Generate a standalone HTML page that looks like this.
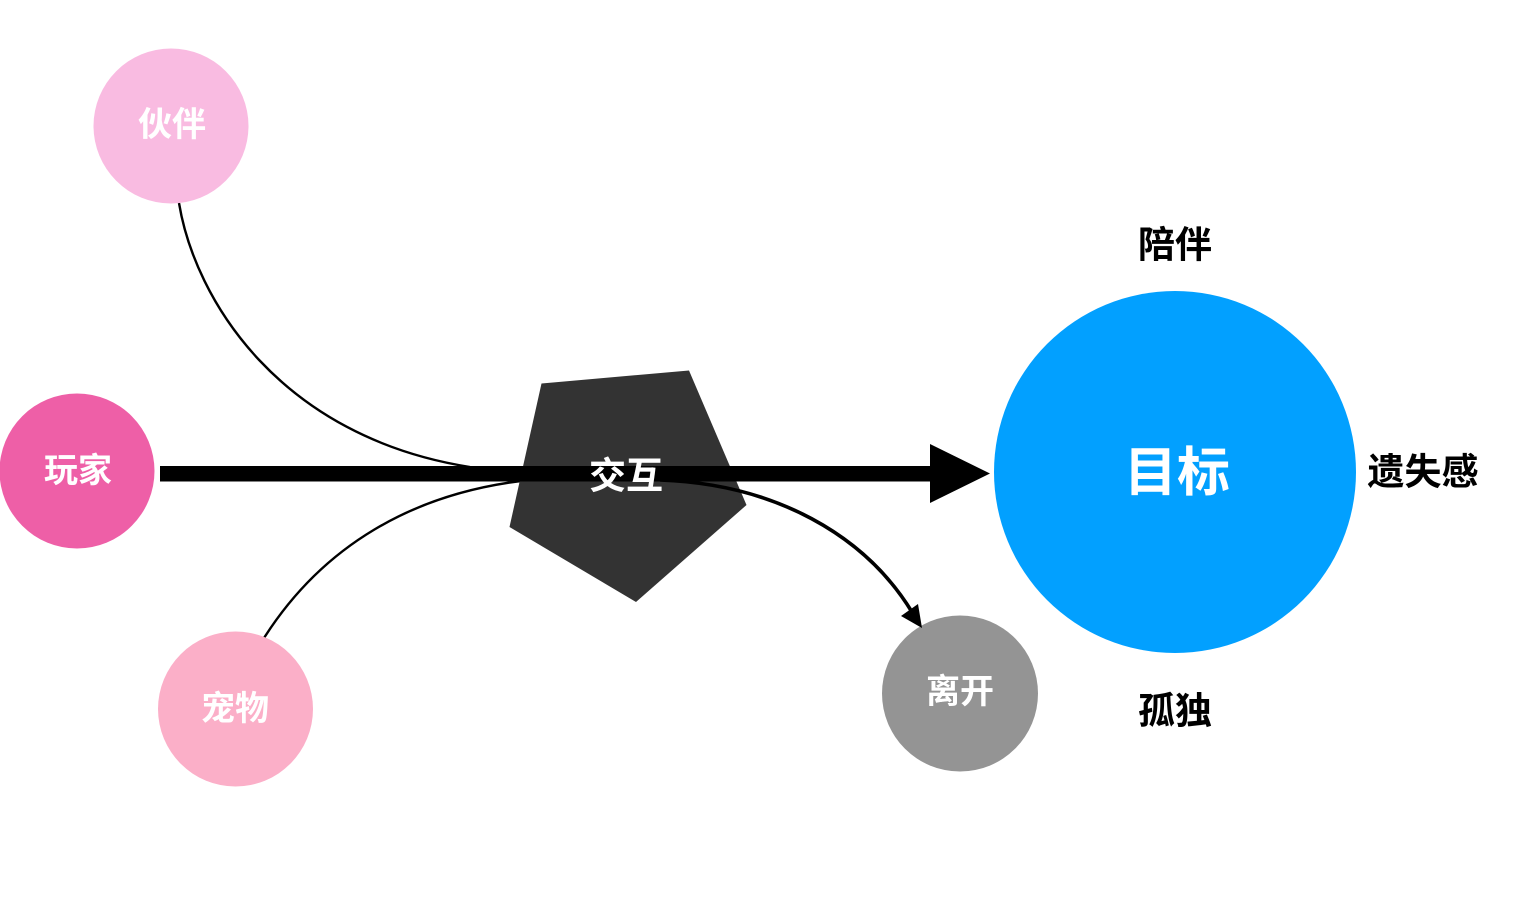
<!DOCTYPE html>
<html>
<head>
<meta charset="utf-8">
<style>
  html, body { margin: 0; padding: 0; background: #ffffff; }
  body { width: 1528px; height: 918px; overflow: hidden; }
  svg { display: block; }
  text { font-family: "Liberation Sans", "Noto Sans CJK SC", sans-serif; font-weight: bold; }
</style>
</head>
<body>
<svg width="1528" height="918" viewBox="0 0 1528 918" xmlns="http://www.w3.org/2000/svg">
  <rect width="1528" height="918" fill="#ffffff"/>

  <!-- thin curves -->
  <path d="M179,203 C195,300 280,437 470,467" fill="none" stroke="#000" stroke-width="2.4"/>
  <path d="M264,638 C320,550 410,490 540,479" fill="none" stroke="#000" stroke-width="2.4"/>

  <!-- pentagon -->
  <polygon points="541.5,383.5 689,370.5 746.5,505 636,602 509.5,527" fill="#333333"/>

  <!-- circles -->
  <circle cx="171" cy="126" r="77.5" fill="#f9bbe1"/>
  <circle cx="77" cy="471" r="77.5" fill="#ee5fa7"/>
  <circle cx="235.5" cy="709" r="77.5" fill="#fbafc8"/>
  <circle cx="960" cy="693.5" r="78" fill="#949494"/>
  <circle cx="1175" cy="472" r="181" fill="#02a0ff"/>

  <!-- main arrow -->
  <rect x="160" y="466" width="772" height="15.5" fill="#000"/>
  <polygon points="930,444 990,473.5 930,503" fill="#000"/>

  <!-- curved arrow to 离开 -->
  <path d="M660,480 C775,484 865,535 912,612" fill="none" stroke="#000" stroke-width="3.6"/>
  <polygon points="922,628 901,616 918,604" fill="#000"/>

  <!-- labels -->
  <text x="172" y="125" font-size="34" fill="#ffffff" text-anchor="middle" dominant-baseline="central">伙伴</text>
  <text x="78" y="471" font-size="34" fill="#ffffff" text-anchor="middle" dominant-baseline="central">玩家</text>
  <text x="235" y="709" font-size="34" fill="#ffffff" text-anchor="middle" dominant-baseline="central">宠物</text>
  <text x="960" y="692" font-size="34" fill="#ffffff" text-anchor="middle" dominant-baseline="central">离开</text>
  <text x="626" y="476" font-size="37" fill="#ffffff" text-anchor="middle" dominant-baseline="central">交互</text>
  <text x="1177" y="473" font-size="53" fill="#ffffff" text-anchor="middle" dominant-baseline="central">目标</text>
  <text x="1175" y="245" font-size="37" fill="#000000" text-anchor="middle" dominant-baseline="central">陪伴</text>
  <text x="1423" y="472" font-size="37" fill="#000000" text-anchor="middle" dominant-baseline="central">遗失感</text>
  <text x="1175" y="711" font-size="37" fill="#000000" text-anchor="middle" dominant-baseline="central">孤独</text>
</svg>
</body>
</html>
